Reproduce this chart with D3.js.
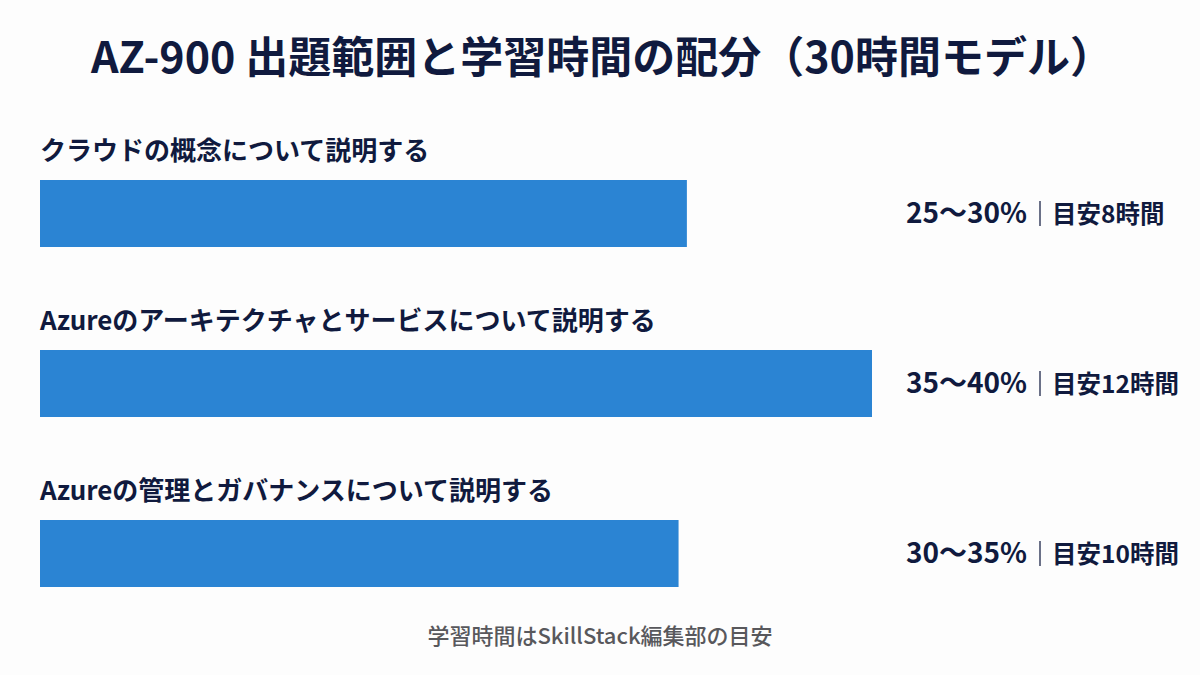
<!DOCTYPE html>
<html>
<head>
<meta charset="utf-8">
<script src="https://cdn.jsdelivr.net/npm/d3@7"></script>
<style>
  html, body { margin: 0; padding: 0; background: #fff; }
  svg { display: block; font-family: "Noto Sans CJK JP", "Noto Sans", sans-serif; }
</style>
</head>
<body>
<script>
const title = 'AZ-900 出題範囲と学習時間の配分（30時間モデル）';
const note = '学習時間はSkillStack編集部の目安';

// カテゴリと値（棒の長さは画像から読み取った推定値）
const categories = [
    'クラウドの概念について説明する',
    'Azureのアーキテクチャとサービスについて説明する',
    'Azureの管理とガバナンスについて説明する'
];
const barValues = [31.1, 40, 30.7];
const ranges = ['25〜30%', '35〜40%', '30〜35%'];
const hours = [8, 12, 10];

const width = 1200;
const height = 675;

const svg = d3.select('body').append('svg')
    .attr('width', width)
    .attr('height', height);

svg.append('rect')
    .attr('width', width)
    .attr('height', height)
    .attr('fill', '#fdfdfd');

svg.append('text')
    .attr('x', width / 2 + 2)
    .attr('y', 73)
    .attr('text-anchor', 'middle')
    .attr('font-size', 43)
    .attr('font-weight', 700)
    .attr('fill', '#101a3e')
    .text(title);

const x = d3.scaleLinear()
    .domain([0, 40])
    .range([40, 872]);

const y = d3.scaleBand()
    .domain(d3.range(categories.length))
    .range([120, 630])
    .paddingInner(0)
    .paddingOuter(0);

const rows = svg.selectAll('g.row').data(categories).enter()
    .append('g')
    .attr('class', 'row')
    .attr('transform', (d, i) => `translate(0,${y(i)})`);

// カテゴリ名
rows.append('text')
    .attr('x', 40)
    .attr('y', 40)
    .attr('font-size', 26)
    .attr('font-weight', 700)
    .attr('fill', '#101a3e')
    .text(d => d);

// 棒
rows.append('rect')
    .attr('x', x(0))
    .attr('y', 60)
    .attr('height', 67)
    .attr('width', (d, i) => x(barValues[i]) - x(0))
    .attr('fill', '#2b84d3');

// 値ラベル
const label = rows.append('g')
    .attr('transform', 'translate(906,103)');

label.append('text')
    .attr('font-size', 28)
    .attr('font-weight', 700)
    .attr('fill', '#101a3e')
    .text((d, i) => ranges[i]);

label.append('line')
    .attr('x1', 134).attr('x2', 134)
    .attr('y1', -22).attr('y2', 3)
    .attr('stroke', '#3a4260')
    .attr('stroke-width', 1.5);

label.append('text')
    .attr('x', 146)
    .attr('font-size', 24.5)
    .attr('font-weight', 700)
    .attr('fill', '#101a3e')
    .text((d, i) => `目安${hours[i]}時間`);

svg.append('text')
    .attr('x', width / 2)
    .attr('y', 644)
    .attr('text-anchor', 'middle')
    .attr('font-size', 22)
    .attr('font-weight', 500)
    .attr('fill', '#58585c')
    .text(note);
</script>
</body>
</html>
